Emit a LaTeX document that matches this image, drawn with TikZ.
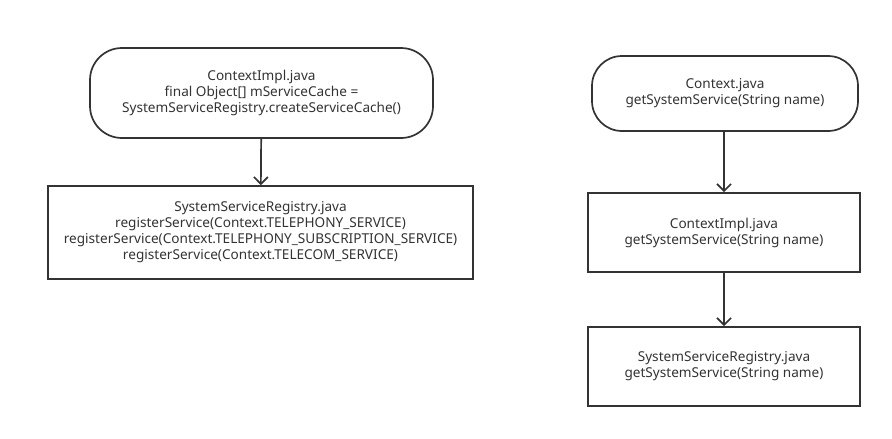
\documentclass[tikz,border=0pt]{standalone}
\usepackage{fontspec}
\setmainfont{Noto Sans}
\usetikzlibrary{arrows.meta}
\definecolor{ink}{HTML}{333333}
\begin{document}
\begin{tikzpicture}[x=1pt,y=-1pt,
  every node/.style={font=\fontsize{13.6}{16}\selectfont, text=ink, align=center},
  term/.style={draw=ink, line width=1.7pt, rounded corners=32pt, inner sep=0pt},
  proc/.style={draw=ink, line width=1.7pt, inner sep=0pt},
  flow/.style={draw=ink, line width=1.7pt, -{Straight Barb[length=7pt,width=14pt,line width=1.7pt]}}]
\useasboundingbox (0,0) rectangle (892,439);
\node[term, minimum width=343pt, minimum height=90pt] (a) at (261.5,93) {ContextImpl.java\\final Object[] mServiceCache =\\SystemServiceRegistry.createServiceCache()};
\node[proc, minimum width=425pt, minimum height=93pt] (b) at (260.5,232.5) {SystemServiceRegistry.java\\registerService(Context.TELEPHONY\_SERVICE)\\registerService(Context.TELEPHONY\_SUBSCRIPTION\_SERVICE)\\registerService(Context.TELECOM\_SERVICE)};
\node[term, rounded corners=30pt, minimum width=266pt, minimum height=75pt] (c) at (725,93.5) {Context.java\\getSystemService(String name)};
\node[proc, minimum width=272pt, minimum height=79pt] (d) at (724,232.5) {ContextImpl.java\\getSystemService(String name)};
\node[proc, minimum width=272pt, minimum height=79pt] (e) at (724,366.5) {SystemServiceRegistry.java\\getSystemService(String name)};
\draw[flow] (a) -- (b);
\draw[flow] (c.south -| d.north) -- (d);
\draw[flow] (d) -- (e);
\end{tikzpicture}
\end{document}
